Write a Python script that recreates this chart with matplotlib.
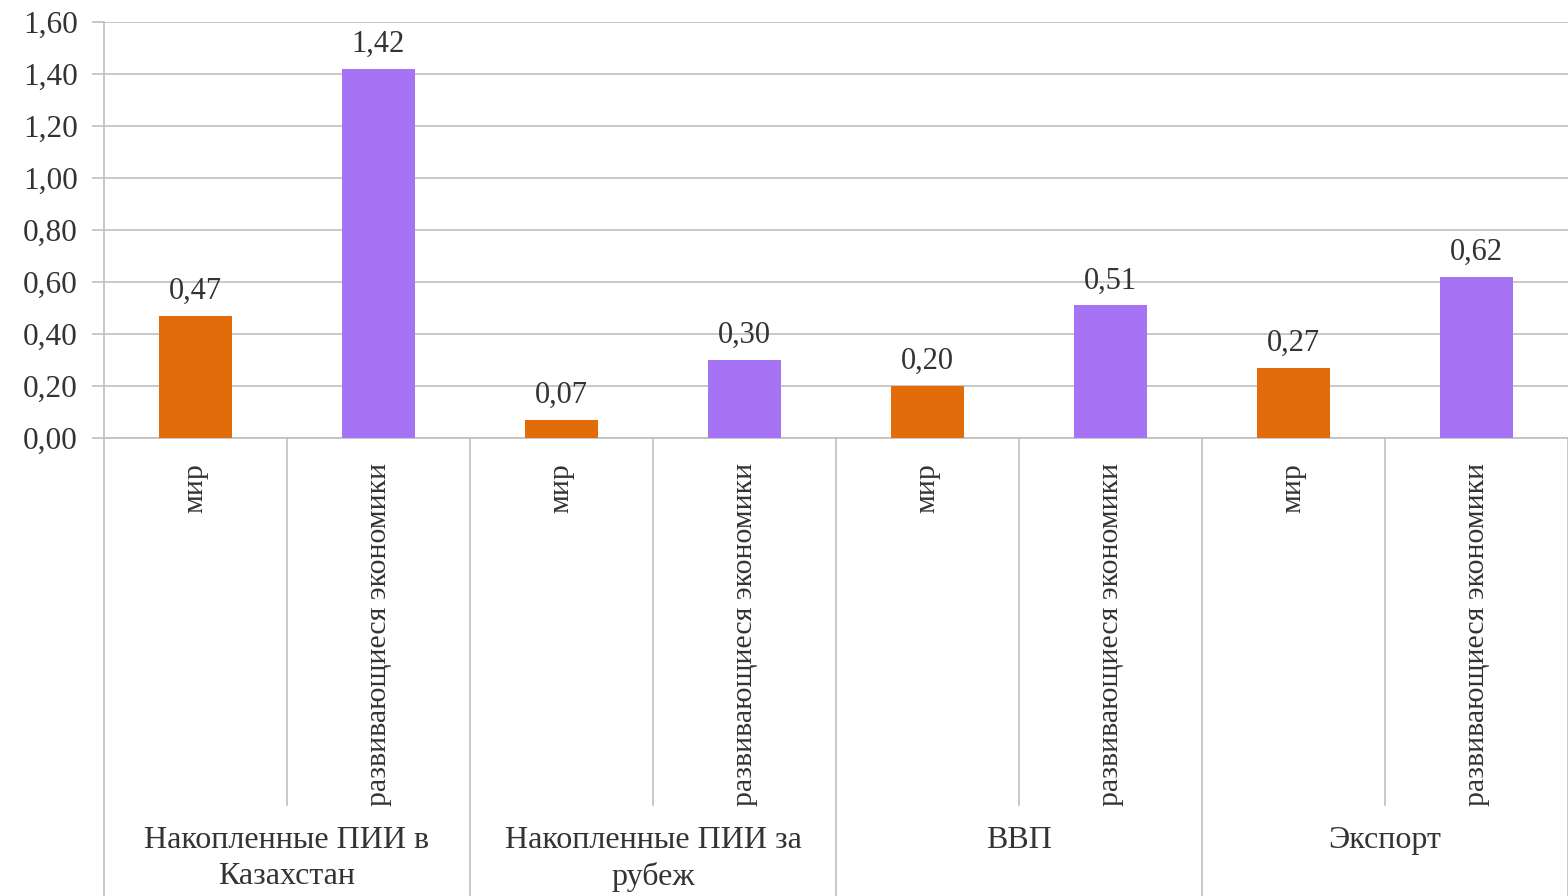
import matplotlib
matplotlib.use("Agg")
import matplotlib.pyplot as plt
import matplotlib.transforms as mtransforms
from matplotlib.ticker import FuncFormatter, MultipleLocator

# Data
groups = ["Накопленные ПИИ в\nКазахстан", "Накопленные ПИИ за\nрубеж", "ВВП", "Экспорт"]
categories = ["мир", "развивающиеся экономики"]
world_values = [0.47, 0.07, 0.20, 0.27]
developing_values = [1.42, 0.30, 0.51, 0.62]

orange = "#E36C0A"
purple = "#A673F5"
text_color = "#333333"
grid_color = "#BFBFBF"

plt.rcParams['font.family'] = ['Liberation Serif', 'DejaVu Serif']

fig = plt.figure(figsize=(15.68, 8.96), dpi=100)
W, H = 1568, 896
ax = fig.add_axes([104 / W, (H - 438) / H, (W - 104) / W, (438 - 22) / H])

# Interleave the two series: мир, развивающиеся for each group
values = []
colors = []
labels = []
for w, d in zip(world_values, developing_values):
    values += [w, d]
    colors += [orange, purple]
    labels += categories
x = list(range(len(values)))

ax.bar(x, values, width=0.4, color=colors, zorder=3)

# Value labels above bars
for xi, v in zip(x, values):
    ax.annotate(("%.2f" % v).replace(".", ","), (xi, v), xytext=(0, 7),
                textcoords="offset points", ha="center", va="bottom",
                fontsize=22, color=text_color)

ax.set_xlim(-0.5, len(values) - 0.5)
ax.set_ylim(0, 1.6)
ax.yaxis.set_major_locator(MultipleLocator(0.2))
ax.yaxis.set_major_formatter(FuncFormatter(lambda v, p: ("%.2f" % v).replace(".", ",")))
ax.grid(axis="y", color=grid_color, linewidth=1.2, zorder=0)
ax.tick_params(axis="y", length=9, width=1.2, color=grid_color, labelsize=22.5,
               labelcolor=text_color, pad=10)

# Rotated category labels
ax.set_xticks(x)
ax.set_xticklabels(labels, rotation=90, va="top", ha="center", fontsize=21.5,
                   color=text_color)
ax.tick_params(axis="x", length=0, pad=18)

for side in ["top", "right"]:
    ax.spines[side].set_visible(False)
ax.spines["left"].set_color(grid_color)
ax.spines["bottom"].set_color(grid_color)
ax.spines["left"].set_linewidth(1.2)
ax.spines["bottom"].set_linewidth(1.2)

# Separator lines in the label area
trans = mtransforms.blended_transform_factory(ax.transData, ax.transAxes)
short_bottom = (438 - 805) / 416
long_bottom = (438 - 896) / 416
for i in range(len(values) + 1):
    xs = i - 0.5
    yb = long_bottom if i % 2 == 0 else short_bottom
    ax.plot([xs, xs], [0, yb], color=grid_color, linewidth=1.2,
            transform=trans, clip_on=False)

# Group labels
label_top = (438 - 826) / 416
for g, name in enumerate(groups):
    ax.text(2 * g + 0.5, label_top, name, transform=trans, ha="center", va="top",
            fontsize=23, color=text_color, linespacing=1.3)

fig.savefig("out.png", dpi=100)
